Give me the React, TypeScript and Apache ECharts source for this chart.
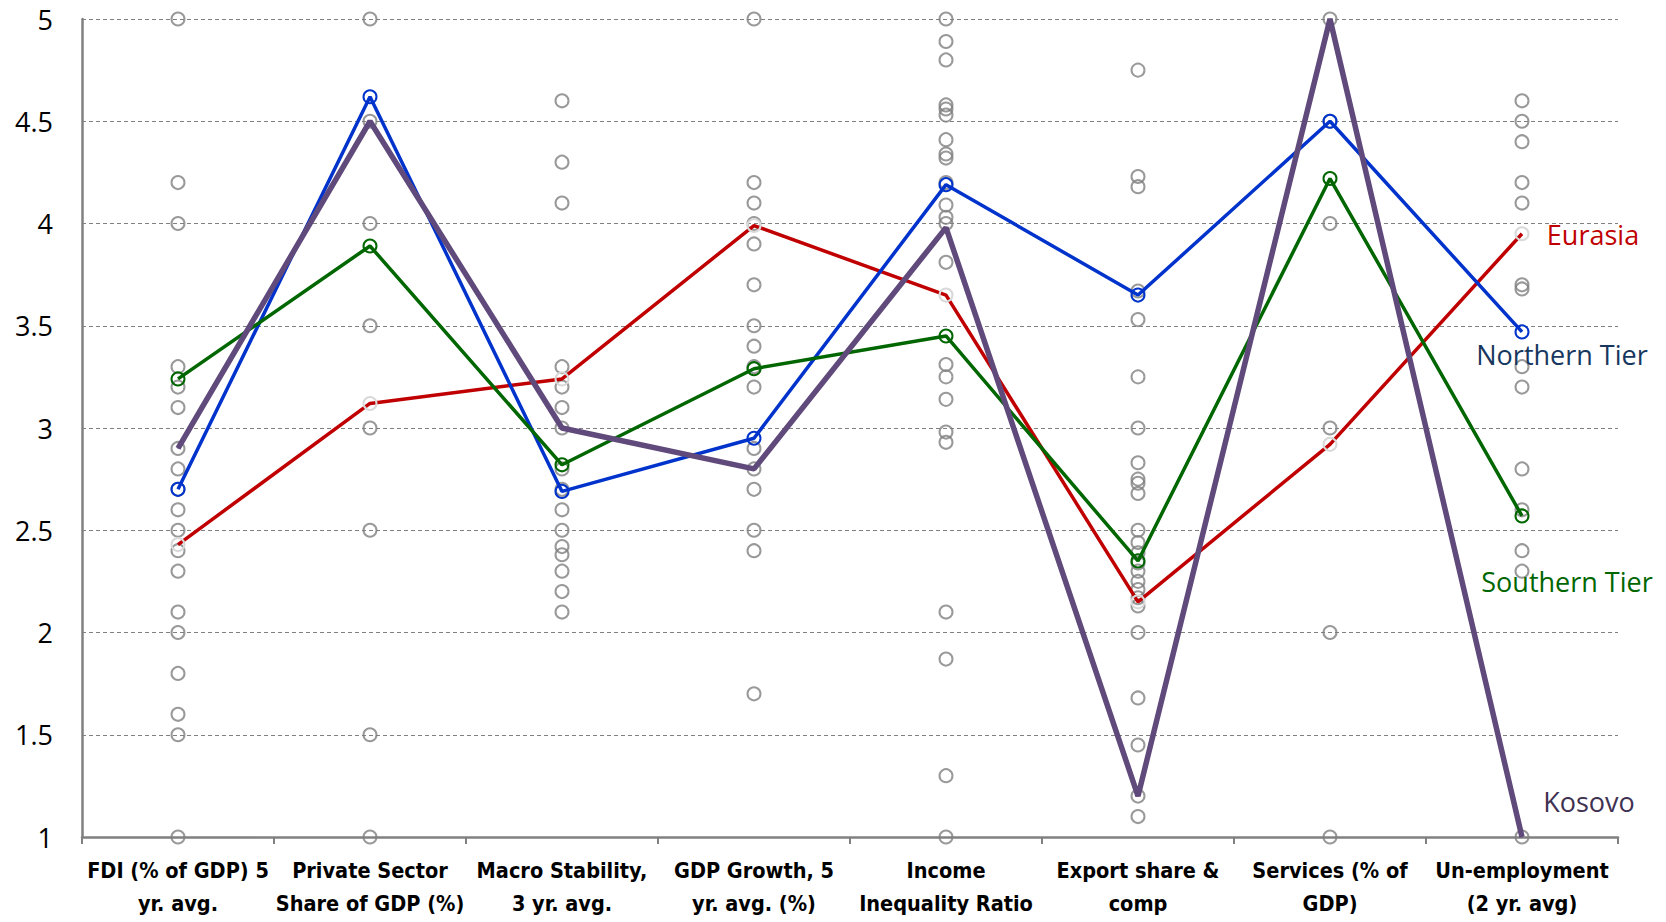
import React, { useEffect, useRef } from "react";
import * as echarts from "echarts";

const categories = [
  "FDI (% of GDP) 5\nyr. avg.",
  "Private Sector\nShare of GDP (%)",
  "Macro Stability,\n3 yr. avg.",
  "GDP Growth, 5\nyr. avg. (%)",
  "Income\nInequality Ratio",
  "Export share &\ncomp",
  "Services (% of\nGDP)",
  "Un-employment\n(2 yr. avg)",
];

const yTicks = { min: 1, max: 5, interval: 0.5 };

const eurasia = [2.43, 3.12, 3.24, 3.99, 3.65, 2.15, 2.92, 3.95];
const northernTier = [2.7, 4.62, 2.69, 2.95, 4.19, 3.65, 4.5, 3.47];
const southernTier = [3.24, 3.89, 2.82, 3.29, 3.45, 2.35, 4.22, 2.57];
const kosovo = [2.9, 4.5, 3.0, 2.8, 3.98, 1.2, 5.0, 1.0];

const fdiCountries = [5.0, 4.2, 4.0, 3.3, 3.2, 3.1, 2.9, 2.8, 2.7, 2.6, 2.5, 2.4, 2.3, 2.1, 2.0, 1.8, 1.6, 1.5, 1.0];
const privateCountries = [5.0, 4.5, 4.0, 3.5, 3.0, 2.5, 1.5, 1.0];
const macroCountries = [4.6, 4.3, 4.1, 3.3, 3.2, 3.1, 3.0, 2.8, 2.7, 2.6, 2.5, 2.42, 2.38, 2.3, 2.2, 2.1];
const gdpCountries = [5.0, 4.2, 4.1, 4.0, 3.9, 3.7, 3.5, 3.4, 3.3, 3.2, 2.9, 2.8, 2.7, 2.5, 2.4, 1.7];
const incomeCountries = [5.0, 4.89, 4.8, 4.58, 4.56, 4.53, 4.41, 4.34, 4.32, 4.2, 4.09, 4.03, 4.0, 3.81, 3.31, 3.25, 3.14, 2.98, 2.93, 2.1, 1.87, 1.3, 1.0];
const exportCountries = [4.75, 4.23, 4.18, 3.67, 3.53, 3.25, 3.0, 2.83, 2.75, 2.73, 2.68, 2.5, 2.44, 2.39, 2.34, 2.3, 2.25, 2.21, 2.17, 2.13, 2.0, 1.68, 1.45, 1.2, 1.1];
const servicesCountries = [5.0, 4.5, 4.0, 3.0, 2.0, 1.0];
const unemploymentCountries = [4.6, 4.5, 4.4, 4.2, 4.1, 3.7, 3.68, 3.3, 3.2, 2.8, 2.6, 2.4, 2.3, 1.0];

const countryValues = [
  fdiCountries,
  privateCountries,
  macroCountries,
  gdpCountries,
  incomeCountries,
  exportCountries,
  servicesCountries,
  unemploymentCountries,
];

const labelFont = "'Open Sans', 'Noto Sans', sans-serif";

function withEndLabel(values: number[], text: string, color: string, offset: number[]) {
  return values.map((v, i) =>
    i === values.length - 1
      ? {
          value: v,
          label: {
            show: true,
            position: "inside",
            offset,
            formatter: text,
            color,
            fontSize: 27,
            fontFamily: labelFont,
            align: "center",
            verticalAlign: "middle",
          },
        }
      : v
  );
}

export default function App() {
  const ref = useRef<HTMLDivElement>(null);

  useEffect(() => {
    if (!ref.current) return;
    const chart = echarts.init(ref.current, null, { renderer: "svg" });

    const scatterData: number[][] = [];
    countryValues.forEach((arr, ci) => arr.forEach((v) => scatterData.push([ci, v])));

    const option: any = {
      animation: false,
      backgroundColor: "#ffffff",
      grid: { left: 82, right: 48, top: 19, bottom: 85, containLabel: false },
      xAxis: {
        type: "category",
        data: categories,
        boundaryGap: true,
        axisLine: { show: true, lineStyle: { color: "#808080", width: 2.5 } },
        axisTick: { show: true, length: 7, lineStyle: { color: "#808080", width: 2 } },
        axisLabel: {
          interval: 0,
          color: "#000000",
          fontFamily: "'Liberation Sans Narrow', 'DejaVu Sans Condensed', 'Roboto Condensed', sans-serif",
          fontWeight: "bold",
          fontSize: 21.5,
          lineHeight: 33,
          margin: 17,
        },
        splitLine: { show: false },
      },
      yAxis: {
        type: "value",
        min: yTicks.min,
        max: yTicks.max,
        interval: yTicks.interval,
        axisLine: { show: true, lineStyle: { color: "#808080", width: 2.5 } },
        axisTick: { show: false },
        axisLabel: { color: "#000000", fontSize: 27, fontFamily: labelFont, margin: 29 },
        splitLine: { show: true, lineStyle: { color: "#808080", width: 1, type: [4, 3] } },
      },
      series: [
        {
          type: "scatter",
          name: "Countries",
          data: scatterData,
          symbol: "circle",
          symbolSize: 13,
          itemStyle: { color: "rgba(0,0,0,0)", borderColor: "#7F7F7F", borderWidth: 2 },
          z: 2,
        },
        {
          type: "line",
          name: "Eurasia",
          data: withEndLabel(eurasia, "Eurasia", "#C00000", [71, 1]),
          symbol: "circle",
          symbolSize: 13,
          showSymbol: true,
          lineStyle: { color: "#C00000", width: 3.5 },
          itemStyle: { color: "rgba(0,0,0,0)", borderColor: "#D9D9D9", borderWidth: 2 },
          z: 3,
        },
        {
          type: "line",
          name: "Northern Tier",
          data: withEndLabel(northernTier, "Northern Tier", "#17375E", [40, 23]),
          symbol: "circle",
          symbolSize: 13,
          showSymbol: true,
          lineStyle: { color: "#0033CC", width: 3.5 },
          itemStyle: { color: "rgba(0,0,0,0)", borderColor: "#0033CC", borderWidth: 2 },
          z: 3,
        },
        {
          type: "line",
          name: "Southern Tier",
          data: withEndLabel(southernTier, "Southern Tier", "#006600", [45, 66]),
          symbol: "circle",
          symbolSize: 13,
          showSymbol: true,
          lineStyle: { color: "#006600", width: 3.5 },
          itemStyle: { color: "rgba(0,0,0,0)", borderColor: "#006600", borderWidth: 2 },
          z: 3,
        },
        {
          type: "line",
          name: "Kosovo",
          data: withEndLabel(kosovo, "Kosovo", "#3F3151", [67, -36]),
          symbol: "circle",
          symbolSize: 1,
          showSymbol: true,
          lineStyle: { color: "#604A7B", width: 5.5 },
          itemStyle: { color: "#604A7B" },
          z: 3,
        },
      ],
    };

    chart.setOption(option);
    return () => chart.dispose();
  }, []);

  return (
    <div
      ref={ref}
      style={{ position: "absolute", left: 0, top: 0, width: 1666, height: 922 }}
    />
  );
}
